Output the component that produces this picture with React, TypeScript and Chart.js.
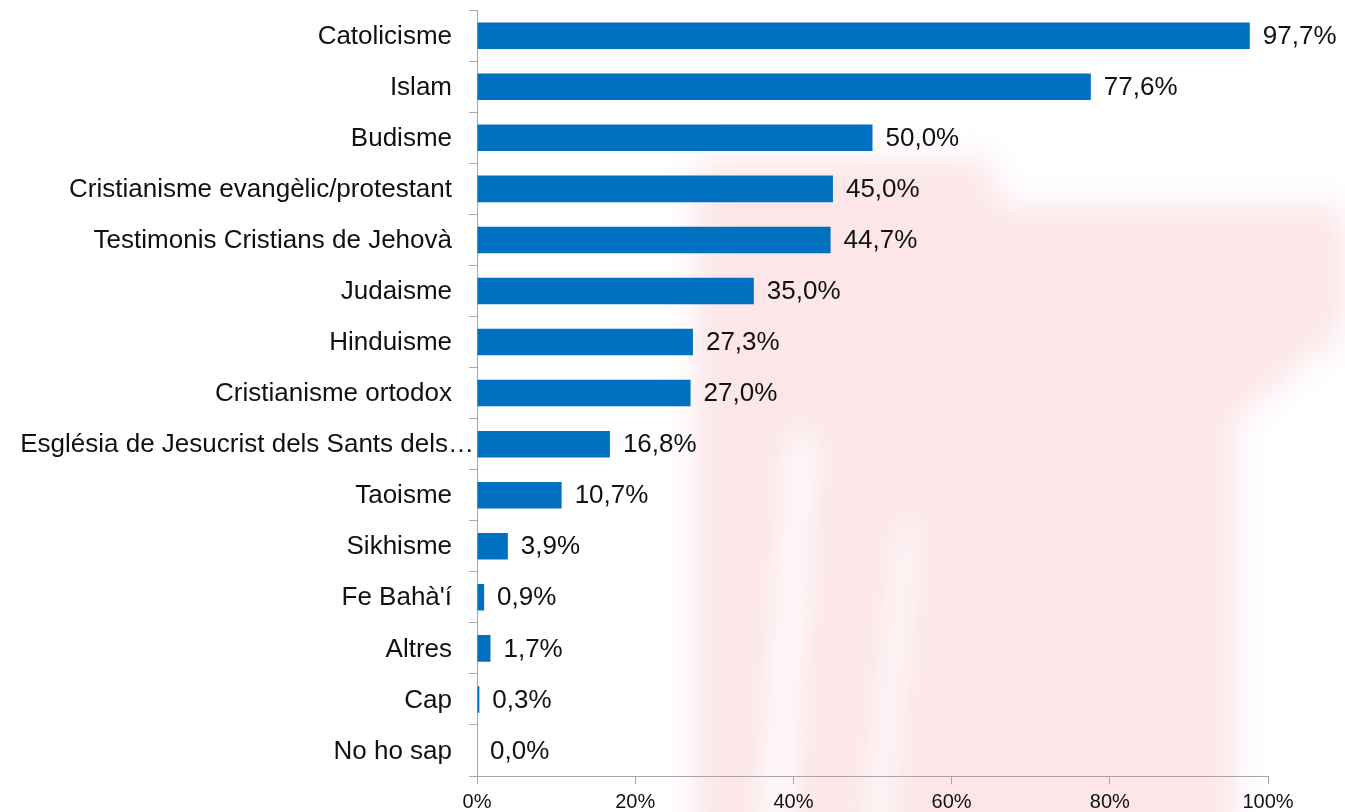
import React, { useEffect, useRef } from "react";
import { Chart, registerables } from "chart.js";

Chart.register(...registerables);

const categories: string[] = [
  "Catolicisme",
  "Islam",
  "Budisme",
  "Cristianisme evangèlic/protestant",
  "Testimonis Cristians de Jehovà",
  "Judaisme",
  "Hinduisme",
  "Cristianisme ortodox",
  "Església de Jesucrist dels Sants dels…",
  "Taoisme",
  "Sikhisme",
  "Fe Bahà'í",
  "Altres",
  "Cap",
  "No ho sap",
];

const values: number[] = [97.7, 77.6, 50.0, 45.0, 44.7, 35.0, 27.3, 27.0, 16.8, 10.7, 3.9, 0.9, 1.7, 0.3, 0.0];

const xTicks: number[] = [0, 20, 40, 60, 80, 100];

const FONT = "'Liberation Sans', Arial, sans-serif";
const AXIS_COLOR = "#a6a6a6";
const TEXT_COLOR = "#111111";
const BAR_COLOR = "#0070c0";

const fmt = (v: number) => v.toFixed(1).replace(".", ",") + "%";

const labelsPlugin = {
  id: "customLabels",
  afterDraw(chart: any) {
    const ctx = chart.ctx;
    const yScale = chart.scales.y;
    const xScale = chart.scales.x;
    const meta = chart.getDatasetMeta(0);
    ctx.save();
    ctx.fillStyle = TEXT_COLOR;
    ctx.font = `26px ${FONT}`;
    ctx.textBaseline = "middle";
    ctx.textAlign = "right";
    categories.forEach((c, i) => {
      const y = yScale.getPixelForValue(i);
      const x = c.endsWith("…") ? yScale.right - 3 : yScale.right - 25;
      ctx.fillText(c, x, y + 1);
    });
    ctx.textAlign = "left";
    meta.data.forEach((bar: any, i: number) => {
      const xEnd = xScale.getPixelForValue(values[i]);
      ctx.fillText(fmt(values[i]), xEnd + 13, bar.y + 1);
    });
    ctx.restore();
  },
};

// faint decorative watermark behind the chart
const bgPlugin = {
  id: "bg",
  beforeDraw(chart: any) {
    const ctx = chart.ctx;
    ctx.save();
    ctx.fillStyle = "#ffffff";
    ctx.fillRect(0, 0, chart.width, chart.height);
    ctx.filter = "blur(16px)";
    ctx.fillStyle = "#fce6e9";
    ctx.beginPath();
    ctx.moveTo(695, 160);
    ctx.lineTo(995, 160);
    ctx.lineTo(995, 205);
    ctx.lineTo(1345, 205);
    ctx.lineTo(1345, 330);
    ctx.lineTo(1235, 420);
    ctx.lineTo(1235, 840);
    ctx.lineTo(695, 840);
    ctx.closePath();
    ctx.fill();
    ctx.fillStyle = "#ffffff";
    ctx.beginPath();
    ctx.moveTo(790, 430);
    ctx.lineTo(815, 430);
    ctx.lineTo(790, 840);
    ctx.lineTo(760, 840);
    ctx.closePath();
    ctx.fill();
    ctx.beginPath();
    ctx.moveTo(900, 520);
    ctx.lineTo(918, 520);
    ctx.lineTo(885, 840);
    ctx.lineTo(865, 840);
    ctx.closePath();
    ctx.fill();
    ctx.restore();
  },
};

export default function App() {
  const ref = useRef<HTMLCanvasElement>(null);
  useEffect(() => {
    if (!ref.current) return;
    const chart = new Chart(ref.current, {
      type: "bar",
      data: {
        labels: categories,
        datasets: [
          {
            data: values,
            backgroundColor: BAR_COLOR,
            borderWidth: 0,
            barPercentage: 0.52,
            categoryPercentage: 1,
          },
        ],
      },
      options: {
        indexAxis: "y",
        responsive: false,
        animation: false,
        devicePixelRatio: 1,
        layout: { padding: { top: 10, right: 77, left: 0, bottom: 0 } },
        plugins: { legend: { display: false }, tooltip: { enabled: false } },
        scales: {
          x: {
            min: 0,
            max: 100,
            afterBuildTicks: (scale: any) => {
              scale.ticks = xTicks.map((v) => ({ value: v }));
            },
            afterFit: (scale: any) => {
              scale.height = 36;
            },
            grid: {
              drawOnChartArea: false,
              drawTicks: true,
              tickLength: 8,
              color: AXIS_COLOR,
            },
            border: { display: true, color: AXIS_COLOR },
            ticks: {
              padding: 6,
              color: TEXT_COLOR,
              font: { family: FONT, size: 20 },
              maxRotation: 0,
              callback: (v: any) => v + "%",
            },
          },
          y: {
            afterFit: (scale: any) => {
              scale.width = 477;
            },
            grid: {
              offset: true,
              drawOnChartArea: false,
              drawTicks: true,
              tickLength: 8,
              color: AXIS_COLOR,
            },
            border: { display: true, color: AXIS_COLOR },
            ticks: {
              autoSkip: false,
              color: "rgba(0,0,0,0)",
              font: { family: FONT, size: 12 },
            },
          },
        },
      },
      plugins: [bgPlugin, labelsPlugin],
    });
    return () => chart.destroy();
  }, []);
  return (
    <div style={{ position: "fixed", left: 0, top: 0, width: 1345, height: 812, background: "#fff" }}>
      <canvas ref={ref} width={1345} height={812} style={{ display: "block" }} />
    </div>
  );
}
